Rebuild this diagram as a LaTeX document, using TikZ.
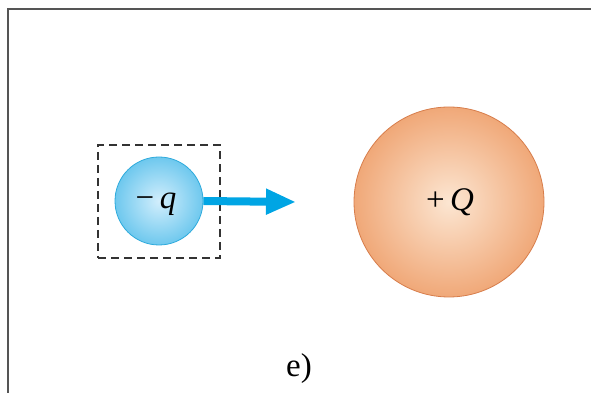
\documentclass[tikz,border=0pt]{standalone}
\usepackage{fontspec}
\setmainfont{Liberation Serif}
\usetikzlibrary{arrows.meta}
\definecolor{qedge}{RGB}{45,170,220}
\definecolor{qin}{RGB}{210,238,252}
\definecolor{qout}{RGB}{110,200,238}
\definecolor{arrowc}{RGB}{0,165,228}
\definecolor{Qedge}{RGB}{215,125,75}
\definecolor{Qin}{RGB}{252,230,210}
\definecolor{Qout}{RGB}{240,168,120}
\definecolor{framec}{RGB}{85,85,85}
\tikzset{
  frameline/.style={draw=framec, line width=2pt},
  dashbox/.style={draw=black!80, line width=1.5pt, dash pattern=on 8pt off 5pt},
  smallq/.style={circle, minimum size=88pt, inner sep=0pt, draw=qedge, line width=0.8pt,
    inner color=qin, outer color=qout},
  bigQ/.style={circle, minimum size=190pt, inner sep=0pt, draw=Qedge, line width=0.8pt,
    inner color=Qin, outer color=Qout},
  lbl/.style={font=\fontsize{33}{33}\selectfont},
  force/.style={draw=arrowc, line width=8pt, -{Triangle[length=30pt 0,width=24pt 0,fill=arrowc]}}
}
\begin{document}
\begin{tikzpicture}[x=1pt,y=1pt]
\useasboundingbox (0,0) rectangle (591,393);
\draw[frameline] (8,0) -- (8,384) -- (591,384);
\node[dashbox, minimum width=122pt, minimum height=113pt, inner sep=0pt] (box) at (159,191.5) {};
\coordinate (tip) at (296,191);
\node[smallq] (q) at (159,192) {};
\draw[force] (q.east) -- (tip);
\node[lbl] (qlabel) at (156,189) {−\,\textit{q}};
\node[bigQ] (Q) at (449,191) {};
\node[lbl] (Qlabel) at (450,191) {+\,\textit{Q}};
\node[lbl] (e) at (299,24) {e)};
\end{tikzpicture}
\end{document}
